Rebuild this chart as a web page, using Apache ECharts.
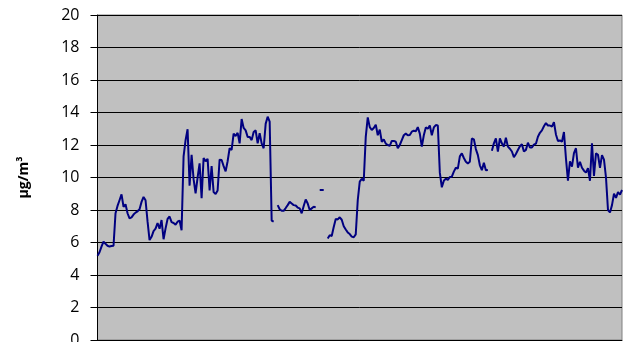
<!DOCTYPE html>
<html>
<head>
<meta charset="utf-8">
<script src="https://cdn.jsdelivr.net/npm/echarts@6/dist/echarts.min.js"></script>
<style>
  html, body { margin: 0; padding: 0; background: #fff; }
  #chart { width: 627px; height: 342px; }
</style>
</head>
<body>
<div id="chart"></div>
<script>
// hourly concentration samples, null = no measurement
var concValues = [
  5.19, 5.4, 5.75, 6.05, 5.92, 5.8, 5.75, 5.78, 5.8, 7.8,
  8.25, 8.6, 8.96, 8.2, 8.35, 7.8, 7.49, 7.55, 7.72, 7.84,
  7.92, 8.05, 8.5, 8.8, 8.6, 7.3, 6.15, 6.35, 6.7, 6.85,
  7.2, 6.85, 7.38, 6.2, 6.87, 7.45, 7.6, 7.25, 7.2, 7.1,
  7.28, 7.35, 6.75, 11.3, 12.3, 12.97, 9.5, 11.4, 9.9, 9.03,
  10.0, 10.87, 8.72, 11.2, 11.0, 11.15, 9.2, 10.7, 9.1, 8.98,
  9.2, 11.1, 11.08, 10.7, 10.38, 11.0, 11.8, 11.7, 12.7, 12.55,
  12.75, 12.1, 13.6, 13.05, 12.9, 12.5, 12.5, 12.3, 12.8, 12.9,
  12.1, 12.72, 12.1, 11.8, 13.3, 13.74, 13.44, 7.35, 7.28, null,
  8.3, 8.05, 7.95, 7.95, 8.12, 8.3, 8.5, 8.4, 8.3, 8.28,
  8.15, 8.1, 7.8, 8.25, 8.65, 8.4, 8.0, 8.1, 8.2, 8.16,
  null, 9.23, 9.23, 9.23, null, 6.25, 6.45, 6.4, 6.95, 7.45,
  7.42, 7.55, 7.4, 7.0, 6.8, 6.62, 6.52, 6.36, 6.32, 6.5,
  8.6, 9.75, 9.92, 9.8, 12.5, 13.7, 13.1, 12.92, 13.05, 13.25,
  12.6, 12.95, 12.2, 12.35, 12.08, 12.0, 11.95, 12.25, 12.25, 12.2,
  11.8, 12.0, 12.3, 12.6, 12.7, 12.6, 12.62, 12.82, 12.88, 12.85,
  13.1, 12.7, 11.9, 12.6, 13.08, 13.0, 13.2, 12.6, 13.08, 13.23,
  13.2, 10.3, 9.4, 9.8, 9.93, 9.85, 10.03, 10.05, 10.36, 10.6,
  10.55, 11.3, 11.49, 11.2, 10.97, 10.87, 10.97, 12.4, 12.35, 11.75,
  11.38, 10.75, 10.45, 10.9, 10.45, 10.46, null, 11.65, 12.1, 12.4,
  11.59, 12.4, 12.1, 11.9, 12.45, 11.9, 11.77, 11.6, 11.25, 11.45,
  11.69, 11.92, 12.05, 11.6, 11.7, 12.14, 11.85, 11.85, 12.02, 12.08,
  12.51, 12.75, 12.9, 13.15, 13.35, 13.2, 13.2, 13.13, 13.4, 12.65,
  12.25, 12.28, 12.2, 12.8, 11.18, 9.8, 11.0, 10.67, 11.5, 11.8,
  10.6, 10.97, 10.6, 10.42, 10.3, 10.57, 9.8, 12.1, 10.1, 11.49,
  11.4, 10.6, 11.38, 11.1, 10.0, 8.0, 7.85, 8.3, 9.0, 8.75,
  9.1, 8.95, 9.23
];
var hourIndex = concValues.map(function (v, i) { return i + 1; });
var yTicks = [0, 2, 4, 6, 8, 10, 12, 14, 16, 18, 20];
var yTitle = 'µg/m³';

var myChart = echarts.init(document.getElementById('chart'));

var option = {
    animation: false,
    grid: {
        left: 97.5,
        right: 5,
        top: 15,
        bottom: 2,
        outerBoundsMode: 'none',
        containLabel: false,
        show: true,
        backgroundColor: '#c0c0c0',
        borderColor: '#808080',
        borderWidth: 1
    },
    xAxis: {
        type: 'category',
        data: hourIndex,
        boundaryGap: false,
        axisLine: {show: true, lineStyle: {color: '#000', width: 1}},
        axisTick: {show: false},
        axisLabel: {show: false},
        splitLine: {show: false}
    },
    yAxis: {
        type: 'value',
        min: yTicks[0],
        max: yTicks[yTicks.length - 1],
        interval: 2,
        name: yTitle,
        nameLocation: 'middle',
        nameGap: 66,
        nameRotate: 90,
        nameTextStyle: {
            fontFamily: 'Open Sans',
            fontWeight: 'bold',
            fontSize: 14,
            color: '#000'
        },
        axisLine: {show: true, lineStyle: {color: '#000', width: 1}},
        axisTick: {show: true, length: 7, lineStyle: {color: '#000'}},
        axisLabel: {
            margin: 18,
            fontFamily: 'Open Sans',
            fontSize: 16,
            color: '#000'
        },
        splitLine: {show: true, lineStyle: {color: '#000', width: 1}}
    },
    series: [
        {
            name: 'conc',
            type: 'line',
            data: concValues,
            showSymbol: false,
            connectNulls: false,
            lineStyle: {color: '#000080', width: 2},
            itemStyle: {color: '#000080'}
        }
    ]
};

myChart.setOption(option);
</script>
</body>
</html>
